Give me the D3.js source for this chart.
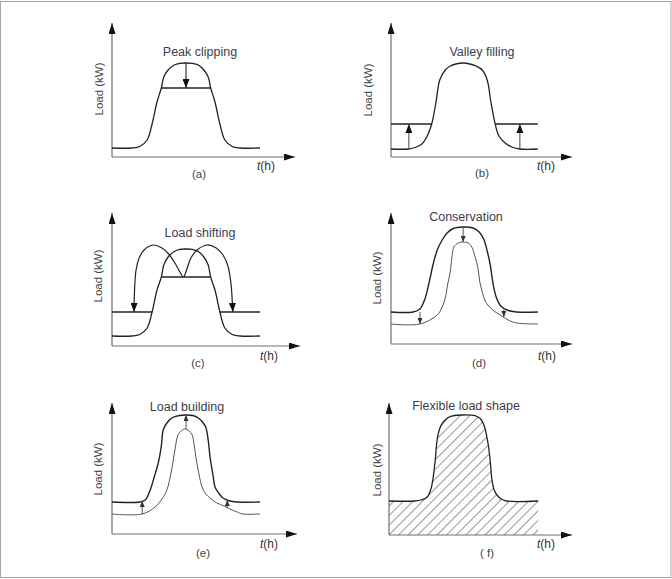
<!DOCTYPE html>
<html>
<head>
<meta charset="utf-8">
<script src="https://cdn.jsdelivr.net/npm/d3@7"></script>
<style>
body { margin: 0; background: #fff; }
svg { display: block; font-family: "Liberation Sans", Arial, sans-serif; }
</style>
</head>
<body>
<script>
var w = 672;
var h = 579;

// time in hours (0-24), load in arbitrary units (0-100+)
var titles = ["Peak clipping", "Valley filling", "Load shifting", "Conservation", "Load building", "Flexible load shape"];
var panelLabels = ["(a)", "(b)", "(c)", "(d)", "(e)", "( f)"];
var yLabel = "Load (kW)";

// (a) peak clipping
var peakA = [[0,9],[3.2,9],[4.5,10.5],[5.7,17],[6.5,33],[7.3,55],[8.0,69],[8.4,80],[9.1,87],[10.1,92],[11.0,93.7],[12.0,94],[13.0,93.7],[14.0,92],[14.9,87],[15.6,80],[16.0,69],[16.7,55],[17.5,33],[18.3,17],[19.5,10.5],[20.8,9],[24,9]];
var clipA = [[8.0,69],[16.0,69]];
var arrowsA = [[12.0,94,69]];

// (b) valley filling
var peakB = [[0,8],[2.8,8],[3.9,9.5],[5.0,13],[5.8,20],[6.6,33],[7.3,55],[7.9,77],[8.8,87],[9.6,91],[10.5,93],[11.7,94],[12.8,93],[13.8,91],[14.8,87],[15.6,77],[16.2,55],[16.9,33],[17.5,21],[18.5,14],[19.6,10],[20.9,8],[23.8,8]];
var fillB = [[[0,33],[6.6,33]], [[16.9,33],[23.8,33]]];
var arrowsB = [[2.9,8,33],[20.9,8,33]];

// (c) load shifting
var peakC = [[0,10],[3.2,10],[4.5,11.5],[5.7,18],[6.5,34],[7.3,56],[8.0,69],[8.4,81],[9.1,89],[10.1,94.5],[11.0,96.7],[12.0,97],[13.0,96.7],[14.0,94.5],[14.9,89],[15.6,81],[16.0,69],[16.7,56],[17.5,34],[18.3,18],[19.5,11.5],[20.8,10],[24,10]];
var shiftC = [[[0,34],[6.5,34]], [[17.5,34],[24,34]]];
var clipC = [[8.0,69],[16.0,69]];
var arcLeftC = [[11.5,69],[11.0,74],[10.2,83],[9.2,92],[8.1,98],[6.65,101],[5.2,96],[4.4,88],[3.9,76],[3.65,55],[3.57,34]];
var arcRightC = [[11.7,69],[12.2,78],[12.8,88],[13.8,96],[15.4,101],[16.9,98],[18.0,91],[18.8,80],[19.3,62],[19.5,45],[19.6,34]];

// (d) conservation
var outerD = [[0,32],[3.6,32],[4.7,35],[5.5,45],[6.2,62],[6.8,79],[7.5,94],[8.3,104],[9.1,111],[10.1,115.5],[11.7,117],[13.3,116],[14.3,112],[15.1,104],[15.6,93],[16.1,79],[16.5,62],[17.0,48],[17.8,38],[19.0,33.5],[20.4,32],[23.8,32]];
var innerD = [[0,20],[4.7,20],[7.5,29],[8.3,37],[8.8,46],[9.2,60],[9.6,72],[9.9,88],[10.2,97],[10.9,101],[11.7,102],[12.5,101],[13.1,97],[13.6,88],[14.1,76],[14.4,62],[14.8,52],[15.2,44],[15.7,39],[16.7,33],[17.7,29],[19.0,24],[20.4,21],[23.8,20]];
var arrowsD = [[11.7,117,102],[4.7,32,20],[18.3,34.5,27]];

// (e) load building
var outerE = [[0,32],[4.5,32],[5.4,34],[6.2,44],[6.8,56],[7.5,71],[8.0,88],[8.3,104],[8.9,111],[9.7,116],[10.9,118.5],[12.0,119],[13.1,118.5],[14.0,116],[14.8,111],[15.2,107],[15.6,94],[15.9,77],[16.4,58],[16.7,47],[17.4,40],[18.0,36],[19.1,33],[20.3,32],[24,32]];
var innerE = [[0,20],[4.9,20],[7.0,27],[8.1,35],[8.9,44],[9.6,62],[10.2,84],[10.7,99],[11.2,103],[11.8,105],[12.5,103],[13.0,99],[13.3,90],[13.6,77],[14.1,60],[14.6,47],[15.2,40],[15.9,36],[17.0,31],[18.2,28],[19.1,25],[20.3,22],[21.2,20],[24,20]];
var arrowsE = [[4.9,20,33],[18.7,26,34],[12.0,105,119]];

// (f) flexible load shape
var shapeF = [[0,34],[4.2,34],[5.2,35],[6.2,38],[6.8,46],[7.1,55],[7.5,75],[7.8,95],[8.2,106],[8.8,113],[9.6,117.5],[10.6,119.5],[12.0,120],[13.4,119.8],[14.3,118.5],[15.0,115],[15.5,108],[15.9,97],[16.1,90],[16.4,75],[16.7,55],[17.0,46],[17.5,40],[18.2,36],[19.1,34],[24.2,34]];

// layout of the six panels
var panels = [
    {ox: 112, oy: 157, top: 23, right: 295, tx: 200, ty: 56, lx: 199, ly: 178, hx: 257, hy: 170, yx: 103, yy: 89},
    {ox: 391, oy: 157, top: 23, right: 572, tx: 482, ty: 56, lx: 482, ly: 177, hx: 537, hy: 170, yx: 372, yy: 90},
    {ox: 112, oy: 346, top: 213, right: 300, tx: 200, ty: 237, lx: 198, ly: 367, hx: 260, hy: 360, yx: 102, yy: 276},
    {ox: 391, oy: 344, top: 213, right: 572, tx: 466, ty: 221, lx: 479, ly: 367, hx: 538, hy: 360, yx: 381, yy: 278},
    {ox: 112, oy: 534, top: 403, right: 297, tx: 187, ty: 411, lx: 203, ly: 557, hx: 260, hy: 548, yx: 102, yy: 469},
    {ox: 389, oy: 535, top: 403, right: 572, tx: 466, ty: 410, lx: 487, ly: 557, hx: 537, hy: 548, yx: 381, yy: 470}
];

var svg = d3.select("body")
    .append("svg")
    .attr("width", w)
    .attr("height", h);

svg.append("rect")
    .attr("x", 0.5).attr("y", 1.5)
    .attr("width", w - 1.5).attr("height", h - 3)
    .attr("fill", "none")
    .attr("stroke", "#a8a8a8");

var defs = svg.append("defs");

function marker(id, len, wid, color) {
    defs.append("marker")
        .attr("id", id)
        .attr("markerUnits", "userSpaceOnUse")
        .attr("markerWidth", len).attr("markerHeight", wid)
        .attr("refX", len).attr("refY", wid / 2)
        .attr("orient", "auto")
        .append("path")
        .attr("d", "M0,0L" + len + "," + (wid / 2) + "L0," + wid + "Z")
        .attr("fill", color);
}
marker("axisHead", 11, 7, "#111");
marker("bigHead", 9, 7, "#111");
marker("smallHead", 6, 5, "#333");

//hatch for (f)
defs.append("pattern")
    .attr("id", "hatch")
    .attr("patternUnits", "userSpaceOnUse")
    .attr("width", 6.8).attr("height", 6.8)
    .attr("patternTransform", "rotate(45)")
    .append("line")
    .attr("x1", 0).attr("y1", 0).attr("x2", 0).attr("y2", 6.8)
    .attr("stroke", "#333").attr("stroke-width", 1);

var curve = d3.curveCatmullRom.alpha(0.5);

function drawPanel(i) {
    var p = panels[i];
    var g = svg.append("g");
    var xScale = d3.scaleLinear().domain([0, 24]).range([p.ox, p.ox + 148]);
    var yScale = d3.scaleLinear().domain([0, 100]).range([p.oy, p.oy - 100]);
    var line = d3.line()
        .x(function (d) { return xScale(d[0]); })
        .y(function (d) { return yScale(d[1]); })
        .curve(curve);
    var straight = d3.line()
        .x(function (d) { return xScale(d[0]); })
        .y(function (d) { return yScale(d[1]); });

    //axes
    g.append("line")
        .attr("x1", p.ox).attr("y1", p.oy)
        .attr("x2", p.ox).attr("y2", p.top)
        .attr("stroke", "#6f6f6f").attr("stroke-width", 1.2)
        .attr("marker-end", "url(#axisHead)");
    g.append("line")
        .attr("x1", p.ox).attr("y1", p.oy)
        .attr("x2", p.right).attr("y2", p.oy)
        .attr("stroke", "#6f6f6f").attr("stroke-width", 1.2)
        .attr("marker-end", "url(#axisHead)");

    //texts
    g.append("text")
        .attr("x", p.tx).attr("y", p.ty)
        .attr("text-anchor", "middle")
        .attr("font-size", "12.5px")
        .attr("fill", "#3c3c4a")
        .text(titles[i]);
    g.append("text")
        .attr("x", p.lx).attr("y", p.ly)
        .attr("text-anchor", "middle")
        .attr("font-size", "11.5px")
        .attr("fill", "#444")
        .text(panelLabels[i]);
    var th = g.append("text")
        .attr("x", p.hx).attr("y", p.hy)
        .attr("font-size", "12px")
        .attr("fill", "#333");
    th.append("tspan").attr("font-style", "italic").text("t");
    th.append("tspan").text("(h)");
    g.append("text")
        .attr("transform", "translate(" + p.yx + "," + p.yy + ") rotate(-90)")
        .attr("text-anchor", "middle")
        .attr("font-size", "11.5px")
        .attr("fill", "#444")
        .text(yLabel);

    return {g: g, x: xScale, y: yScale, line: line, straight: straight};
}

function path(P, data, color, width, fn) {
    return P.g.append("path")
        .datum(data)
        .attr("d", fn || P.line)
        .attr("fill", "none")
        .attr("stroke", color)
        .attr("stroke-width", width);
}

function arrows(P, data, head, color, width) {
    P.g.selectAll("line.arrow")
        .data(data)
        .enter()
        .append("line")
        .attr("class", "arrow")
        .attr("x1", function (d) { return P.x(d[0]); })
        .attr("x2", function (d) { return P.x(d[0]); })
        .attr("y1", function (d) { return P.y(d[1]); })
        .attr("y2", function (d) { return P.y(d[2]); })
        .attr("stroke", color)
        .attr("stroke-width", width)
        .attr("marker-end", "url(#" + head + ")");
}

// (a)
var pa = drawPanel(0);
path(pa, peakA, "#222", 1.3);
path(pa, clipA, "#222", 1.3, pa.straight);
arrows(pa, arrowsA, "bigHead", "#222", 1.1);

// (b)
var pb = drawPanel(1);
path(pb, peakB, "#222", 1.3);
fillB.forEach(function (s) { path(pb, s, "#222", 1.3, pb.straight); });
arrows(pb, arrowsB, "bigHead", "#444", 1);

// (c)
var pc = drawPanel(2);
path(pc, peakC, "#222", 1.3);
shiftC.forEach(function (s) { path(pc, s, "#222", 1.3, pc.straight); });
path(pc, clipC, "#222", 1.3, pc.straight);
path(pc, arcLeftC, "#222", 1.2).attr("marker-end", "url(#bigHead)");
path(pc, arcRightC, "#222", 1.2).attr("marker-end", "url(#bigHead)");

// (d)
var pd = drawPanel(3);
path(pd, outerD, "#222", 1.4);
path(pd, innerD, "#555", 1);
arrows(pd, arrowsD, "smallHead", "#444", 0.9);

// (e)
var pe = drawPanel(4);
path(pe, outerE, "#222", 1.4);
path(pe, innerE, "#555", 1);
arrows(pe, arrowsE, "smallHead", "#444", 0.9);

// (f)
var pf = drawPanel(5);
var area = d3.area()
    .x(function (d) { return pf.x(d[0]); })
    .y0(pf.y(0))
    .y1(function (d) { return pf.y(d[1]); })
    .curve(curve);
pf.g.insert("path", ":first-child")
    .datum(shapeF)
    .attr("d", area)
    .attr("fill", "url(#hatch)");
path(pf, shapeF, "#222", 1.3);
</script>
</body>
</html>
